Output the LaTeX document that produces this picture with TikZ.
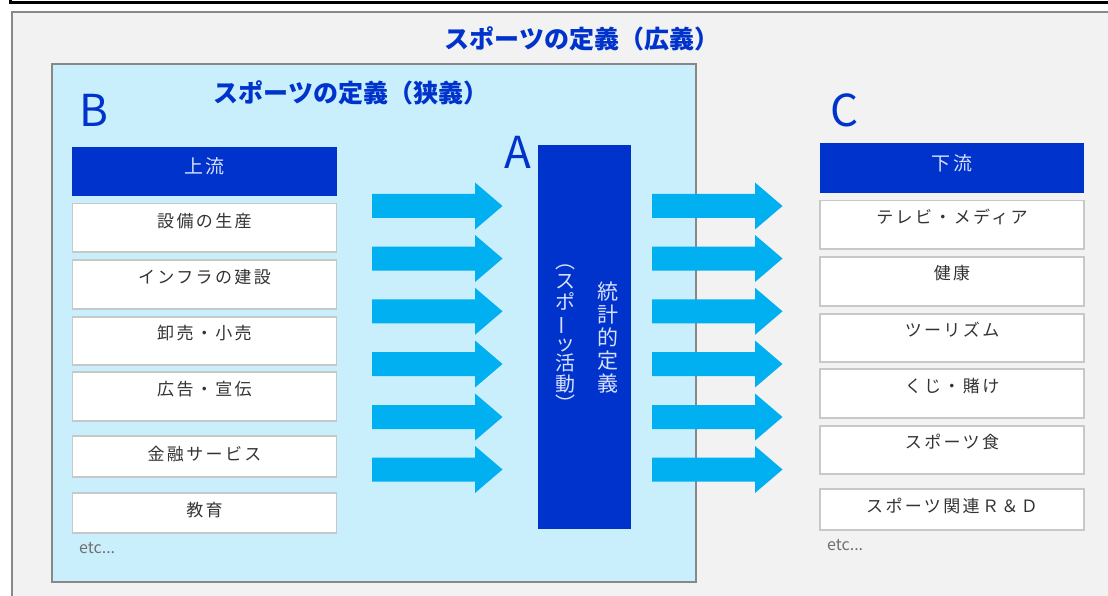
\documentclass[tikz,border=0pt]{standalone}
\usepackage{fontspec}
\usepackage{graphicx}
\setmainfont{Noto Sans CJK JP}
\newfontfamily\cjk{Noto Sans CJK JP}
\newfontfamily\cjksp[LetterSpace=14]{Noto Sans CJK JP}
\definecolor{outerbg}{HTML}{F2F2F2}
\definecolor{innerbg}{HTML}{C9EFFD}
\definecolor{framegray}{HTML}{888888}
\definecolor{dblue}{HTML}{0033CC}
\definecolor{arrowblue}{HTML}{00B0F0}
\definecolor{itemborder}{HTML}{C8C8C8}
\definecolor{itemtext}{HTML}{333333}
\definecolor{hdrtext}{HTML}{D8E0FF}
\definecolor{etcgray}{HTML}{707070}
\tikzset{
  itembox/.style={draw=itemborder, line width=1.5pt, fill=white, minimum width=264pt, anchor=north, inner sep=0pt},
  itemtxt/.style={text=itemtext, font=\cjksp\fontsize{17}{17}\selectfont, inner sep=0pt},
  hdrbox/.style={fill=dblue, minimum width=265pt, inner sep=0pt, anchor=north, text=hdrtext, font=\cjksp\fontsize{19}{19}\selectfont},
  bigletter/.style={text=dblue, font=\cjk\fontsize{44}{44}\selectfont, inner sep=0pt},
  titletxt/.style={text=dblue, font=\cjk\bfseries\fontsize{25}{25}\selectfont, inner sep=0pt},
  etctxt/.style={text=etcgray, font=\cjk\fontsize{16}{16}\selectfont, inner sep=0pt, anchor=west},
  blockarrow/.style={fill=arrowblue},
  vtxt/.style={text=hdrtext, align=center, inner sep=0pt},
}
\newcommand{\barrow}[2]{% x0, yc
  \fill[blockarrow] (#1,#2-12) -- (#1+103,#2-12) -- (#1+103,#2-23.5) -- (#1+130.5,#2) -- (#1+103,#2+23.5) -- (#1+103,#2+12) -- (#1,#2+12) -- cycle;}
\begin{document}
\begin{tikzpicture}[x=1pt,y=-1pt]
\useasboundingbox (0,0) rectangle (1108,596);
\clip (0,0) rectangle (1108,596);
\fill[white] (0,0) rectangle (1108,596);
% top black frame remnant
\draw[black, line width=3pt] (10.5,-10) -- (10.5,2.5) -- (1120,2.5);
% outer box
\draw[fill=outerbg, draw=framegray, line width=2.5pt] (12,12) rectangle (1130,620);
\node[titletxt] (tbroad) at (582,39) {スポーツの定義（広義）};
% inner box
\draw[fill=innerbg, draw=framegray, line width=2.5pt] (52,64) rectangle (696,582);
\node[titletxt] (tnarrow) at (351,93) {スポーツの定義（狭義）};
% letters
\node[bigletter] (B) at (94,110) {B};
\node[bigletter] (C) at (845,110) {C};
\node[bigletter] (A) at (518,152) {A};
% left header and items
\node[hdrbox, minimum height=49pt] (up) at (204.5,147) {};
\node[text=hdrtext, font=\cjksp\fontsize{19}{19}\selectfont, inner sep=0pt] at ([yshift=-19.5pt]up.north) {上流};
\node[itembox, minimum height=48pt] (l1) at (204.5,203) {};
\node[itemtxt] at ([yshift=-18pt]l1.north) {設備の生産};
\node[itembox, minimum height=49pt] (l2) at (204.5,259) {};
\node[itemtxt] at ([yshift=-18pt]l2.north) {インフラの建設};
\node[itembox, minimum height=48pt] (l3) at (204.5,316) {};
\node[itemtxt] at ([yshift=-17pt]l3.north) {卸売・小売};
\node[itembox, minimum height=49pt] (l4) at (204.5,371) {};
\node[itemtxt] at ([yshift=-18pt]l4.north) {広告・宣伝};
\node[itembox, minimum height=41pt] (l5) at (204.5,435) {};
\node[itemtxt] at ([yshift=-19pt]l5.north) {金融サービス};
\node[itembox, minimum height=40pt] (l6) at (204.5,492) {};
\node[itemtxt] at ([yshift=-18pt]l6.north) {教育};
\node[etctxt] (etcl) at (79,548) {etc...};
% right header and items
\node[hdrbox, minimum height=50pt, minimum width=264pt] (down) at (952,143) {};
\node[text=hdrtext, font=\cjksp\fontsize{19}{19}\selectfont, inner sep=0pt] at ([yshift=-20pt]down.north) {下流};
\node[itembox, minimum height=48pt] (r1) at (952,200) {};
\node[itemtxt] at ([yshift=-17pt]r1.north) {テレビ・メディア};
\node[itembox, minimum height=49pt] (r2) at (952,256) {};
\node[itemtxt] at ([yshift=-17pt]r2.north) {健康};
\node[itembox, minimum height=48pt] (r3) at (952,313) {};
\node[itemtxt] at ([yshift=-17pt]r3.north) {ツーリズム};
\node[itembox, minimum height=49pt] (r4) at (952,368) {};
\node[itemtxt] at ([yshift=-18pt]r4.north) {くじ・賭け};
\node[itembox, minimum height=48pt] (r5) at (952,425) {};
\node[itemtxt] at ([yshift=-17pt]r5.north) {スポーツ食};
\node[itembox, minimum height=41pt] (r6) at (952,488) {};
\node[itemtxt] at ([yshift=-18pt]r6.north) {スポーツ関連Ｒ＆Ｄ};
\node[etctxt] (etcr) at (827,545) {etc...};
% central bar
\node[fill=dblue, minimum width=93pt, minimum height=384pt, inner sep=0pt, anchor=north] (bar) at (584.5,145) {};
\node[vtxt, font=\cjk\fontsize{21}{23}\selectfont] (v1) at (608,338) {統\\計\\的\\定\\義};
\node[vtxt, font=\cjk\fontsize{20}{20.5}\selectfont] (v2) at (565,338) {︵\\ス\\ポ\\\rotatebox[origin=c]{90}{ー}\\ッ\\活\\動\\︶};
% arrows
\foreach \yc in {206,258.5,311.3,364,417,469.5}{
  \barrow{372}{\yc}
  \barrow{652}{\yc}
}
\end{tikzpicture}
\end{document}
